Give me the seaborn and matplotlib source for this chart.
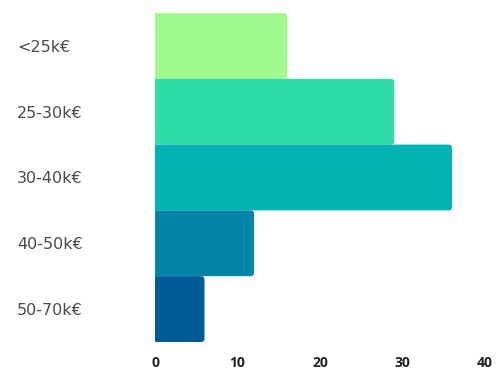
import matplotlib
matplotlib.use("Agg")
import matplotlib.pyplot as plt
from matplotlib.patches import FancyBboxPatch
import seaborn as sns
import pandas as pd

categories = ["<25k€", "25-30k€", "30-40k€", "40-50k€", "50-70k€"]
values = [16, 29, 36, 12, 6]
colors = ["#a0fb8c", "#2edca8", "#00b3b3", "#0085a9", "#005b96"]
xticks = [0, 10, 20, 30, 40]

sns.set_theme(style="white")
plt.rcParams["font.family"] = ["DejaVu Sans"]

W, H = 497, 370
fig = plt.figure(figsize=(W / 100, H / 100), dpi=100)
ax = fig.add_axes([155 / W, (H - 342) / H, (485 - 155) / W, (342 - 13) / H])

df = pd.DataFrame({"band": categories, "count": values})
sns.barplot(data=df, x="count", y="band", hue="band", palette=colors,
            legend=False, width=1.0, orient="h", ax=ax, saturation=1)

ax.set_xlim(0, 40)
ax.set_ylim(len(categories) - 0.5, -0.5)

# swap plain rectangles for ones with softly rounded right corners
px_per_x = (485 - 155) / 40.0
px_per_y = (342 - 13) / len(categories)
radius_px = 3.5
for p in list(ax.patches):
    x0, y0 = p.get_x(), p.get_y()
    w, h = p.get_width(), p.get_height()
    fc = p.get_facecolor()
    p.remove()
    fb = FancyBboxPatch((x0 - 1, y0), w + 1, h,
                        boxstyle=f"round,pad=0,rounding_size={radius_px / px_per_x}",
                        mutation_aspect=px_per_x / px_per_y,
                        facecolor=fc, edgecolor="none", clip_on=True)
    ax.add_patch(fb)

ax.set_xticks(xticks)
ax.set_xticklabels([str(t) for t in xticks], fontsize=10, fontweight="bold",
                   color="#222222", family=["Open Sans", "DejaVu Sans"])
ax.tick_params(axis="x", length=0, pad=10)
# left-aligned category labels, starting near the figure's left edge
ax.tick_params(axis="y", length=0, pad=(155 - 17) * 0.72)
for lbl in ax.get_yticklabels():
    lbl.set_horizontalalignment("left")
    lbl.set_fontsize(11.5)
    lbl.set_color("#4a4a4a")

ax.set_xlabel("")
ax.set_ylabel("")
for s in ax.spines.values():
    s.set_visible(False)

fig.savefig("out.png", dpi=100, facecolor="white")
